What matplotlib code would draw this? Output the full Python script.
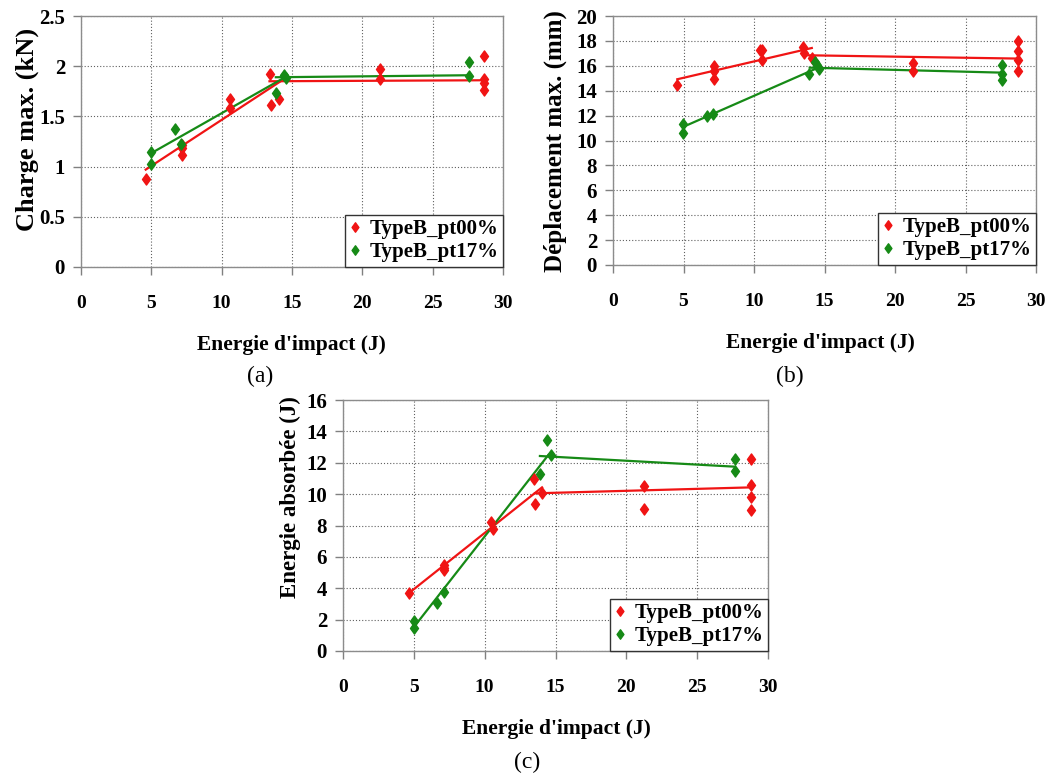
import matplotlib
matplotlib.use("Agg")
import matplotlib.pyplot as plt
from matplotlib.path import Path

W, H = 1050, 776
RED = "#f01414"
GREEN = "#168a16"
SERIF = ["Liberation Serif", "DejaVu Serif"]
plt.rcParams["font.family"] = SERIF
plt.rcParams["font.weight"] = "bold"

labels = ["TypeB_pt00%", "TypeB_pt17%"]

# ---- (a) Charge max. (kN)
a_red_x = [4.6, 7.15, 7.15, 7.15, 10.6, 10.6, 13.45, 13.5, 14.05, 21.25, 21.25, 28.65, 28.65, 28.65, 28.65]
a_red_y = [0.88, 1.22, 1.19, 1.12, 1.67, 1.58, 1.92, 1.61, 1.67, 1.97, 1.87, 2.10, 1.87, 1.83, 1.76]
a_grn_x = [4.95, 4.95, 6.7, 7.1, 13.85, 14.4, 14.6, 27.6, 27.6]
a_grn_y = [1.15, 1.03, 1.37, 1.23, 1.73, 1.91, 1.88, 2.04, 1.90]
a_red_fit1_x = [4.6, 14.3]; a_red_fit1_y = [0.97, 1.86]
a_red_fit2_x = [13.4, 28.7]; a_red_fit2_y = [1.85, 1.86]
a_grn_fit1_x = [4.95, 14.5]; a_grn_fit1_y = [1.13, 1.89]
a_grn_fit2_x = [13.85, 27.6]; a_grn_fit2_y = [1.89, 1.91]

# ---- (b) Déplacement max. (mm)
b_red_x = [4.56, 7.16, 7.16, 7.16, 10.45, 10.55, 10.55, 13.45, 13.55, 14.1, 21.25, 21.25, 28.75, 28.75, 28.75, 28.75]
b_red_y = [14.45, 16.0, 15.6, 14.95, 17.3, 17.3, 16.45, 17.5, 17.0, 16.65, 16.2, 15.6, 18.0, 17.17, 16.45, 15.6]
b_grn_x = [4.99, 4.99, 6.64, 7.07, 13.9, 14.33, 14.45, 14.63, 27.6, 27.6, 27.6]
b_grn_y = [11.3, 10.6, 12.0, 12.14, 15.37, 16.3, 16.04, 15.78, 16.1, 15.37, 14.84]
b_red_fit1_x = [4.56, 14.1]; b_red_fit1_y = [14.92, 17.43]
b_red_fit2_x = [13.5, 28.75]; b_red_fit2_y = [16.85, 16.58]
b_grn_fit1_x = [4.99, 14.45]; b_grn_fit1_y = [11.1, 15.8]
b_grn_fit2_x = [13.95, 27.6]; b_grn_fit2_y = [15.85, 15.45]

# ---- (c) Energie absorbée (J)
c_red_x = [4.64, 7.15, 7.15, 7.15, 10.45, 10.6, 13.48, 13.55, 14.05, 21.27, 21.27, 28.78, 28.78, 28.78, 28.78]
c_red_y = [3.68, 5.48, 5.3, 5.16, 8.2, 7.78, 10.99, 9.39, 10.05, 10.52, 9.07, 12.24, 10.58, 9.84, 8.99]
c_grn_x = [4.99, 4.99, 6.64, 7.13, 13.91, 14.42, 14.66, 27.65, 27.65]
c_grn_y = [1.93, 1.49, 3.08, 3.74, 11.28, 13.45, 12.52, 12.26, 11.5]
c_red_fit1_x = [4.64, 14.05]; c_red_fit1_y = [3.68, 10.43]
c_red_fit2_x = [13.55, 28.78]; c_red_fit2_y = [10.05, 10.43]
c_grn_fit1_x = [4.99, 14.5]; c_grn_fit1_y = [1.51, 12.5]
c_grn_fit2_x = [13.9, 27.65]; c_grn_fit2_y = [12.43, 11.75]

xticks = [0, 5, 10, 15, 20, 25, 30]

DIAMOND = Path([(0, 1), (0.72, 0), (0, -1), (-0.72, 0), (0, 1)],
               [Path.MOVETO, Path.LINETO, Path.LINETO, Path.LINETO, Path.CLOSEPOLY])

fig = plt.figure(figsize=(W / 100, H / 100), dpi=100)


def px_axes(l, t, r, b):
    return fig.add_axes([l / W, 1 - b / H, (r - l) / W, (b - t) / H])


def style(ax, ymax, ystep, ylabels):
    ax.set_xlim(0, 30)
    ax.set_ylim(0, ymax)
    ax.set_xticks(xticks)
    ax.set_xticklabels([str(v) for v in xticks], fontsize=14, fontweight="bold")
    yt = [i * ystep for i in range(len(ylabels))]
    ax.set_yticks(yt)
    ax.set_yticklabels(ylabels, fontsize=15, fontweight="bold")
    ax.tick_params(axis="x", direction="out", length=5.5, width=1, color="#808080", pad=15)
    ax.tick_params(axis="y", direction="out", length=5.5, width=1, color="#808080", pad=6)
    for s in ax.spines.values():
        s.set_color("#8c8c8c")
        s.set_linewidth(1.0)
    ax.grid(True, linestyle=(0, (1, 1.8)), color="#606060", linewidth=0.8)
    ax.set_axisbelow(True)


def draw(ax, rx, ry, gx, gy, fits):
    for (fx, fy, c) in fits:
        ax.plot(fx, fy, color=c, lw=1.6, zorder=2)
    ax.plot(rx, ry, linestyle="none", marker=DIAMOND, ms=8, color=RED, mec=RED, label=labels[0], zorder=3)
    ax.plot(gx, gy, linestyle="none", marker=DIAMOND, ms=8, color=GREEN, mec=GREEN, label=labels[1], zorder=3)
    leg = ax.legend(loc="lower right", borderaxespad=0, fancybox=False, framealpha=1,
                    edgecolor="#333333", handlelength=0.5, handletextpad=0.45,
                    borderpad=0.22, labelspacing=0.15, markerscale=0.85,
                    prop={"family": SERIF, "weight": "bold", "size": 15})
    leg.get_frame().set_linewidth(1.0)


# (a)
axa = px_axes(81, 16, 503, 267)
style(axa, 2.5, 0.5, ["0", "0.5", "1", "1.5", "2", "2.5"])
draw(axa, a_red_x, a_red_y, a_grn_x, a_grn_y,
     [(a_red_fit1_x, a_red_fit1_y, RED), (a_red_fit2_x, a_red_fit2_y, RED),
      (a_grn_fit1_x, a_grn_fit1_y, GREEN), (a_grn_fit2_x, a_grn_fit2_y, GREEN)])

# (b)
axb = px_axes(613, 16, 1036, 265)
style(axb, 20, 2, [str(v) for v in range(0, 21, 2)])
draw(axb, b_red_x, b_red_y, b_grn_x, b_grn_y,
     [(b_red_fit1_x, b_red_fit1_y, RED), (b_red_fit2_x, b_red_fit2_y, RED),
      (b_grn_fit1_x, b_grn_fit1_y, GREEN), (b_grn_fit2_x, b_grn_fit2_y, GREEN)])

# (c)
axc = px_axes(343, 400, 768, 651)
style(axc, 16, 2, [str(v) for v in range(0, 17, 2)])
draw(axc, c_red_x, c_red_y, c_grn_x, c_grn_y,
     [(c_red_fit1_x, c_red_fit1_y, RED), (c_red_fit2_x, c_red_fit2_y, RED),
      (c_grn_fit1_x, c_grn_fit1_y, GREEN), (c_grn_fit2_x, c_grn_fit2_y, GREEN)])


def ftext(x, y, s, **kw):
    fig.text(x / W, 1 - y / H, s, ha="center", va="center", **kw)


ftext(27, 129, "Charge max. (kN)", rotation=90, fontsize=19, fontweight="bold")
ftext(555, 141, "Déplacement max. (mm)", rotation=90, fontsize=18, fontweight="bold")
ftext(290, 497, "Energie absorbée (J)", rotation=90, fontsize=16.5, fontweight="bold")

ftext(291, 345, "Energie d'impact (J)", fontsize=15.5, fontweight="bold")
ftext(820, 343, "Energie d'impact (J)", fontsize=15.5, fontweight="bold")
ftext(556, 729, "Energie d'impact (J)", fontsize=15.5, fontweight="bold")

ftext(260, 376, "(a)", fontsize=17, fontweight="normal")
ftext(790, 376, "(b)", fontsize=17, fontweight="normal")
ftext(527, 762, "(c)", fontsize=17, fontweight="normal")

fig.savefig("out.png", dpi=100)
